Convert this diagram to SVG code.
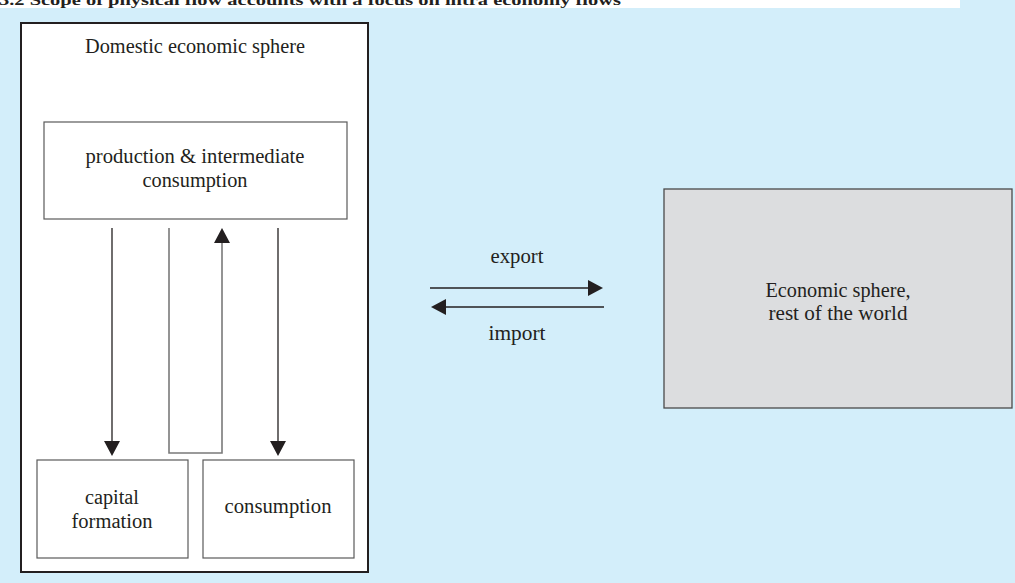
<svg xmlns="http://www.w3.org/2000/svg" width="1015" height="583" viewBox="0 0 1015 583">
  <style>
    .lbl { font-family: "Liberation Serif", "Times New Roman", serif; font-size: 20px; fill: #231F20; text-anchor: middle; }
    .title { font-family: "Liberation Serif", "Times New Roman", serif; font-size: 15px; font-weight: bold; fill: #231F20; }
    .box { fill: #FFFFFF; stroke: #5A5A5A; stroke-width: 1.2; }
    .flow { fill: none; stroke: #231F20; stroke-width: 1.3; }
    .loop { fill: none; stroke: #7A7A7A; stroke-width: 1.6; }
  </style>
  <defs>
    <marker id="head" markerUnits="userSpaceOnUse" markerWidth="16" markerHeight="16" refX="0" refY="8" orient="auto">
      <path d="M0,0 L15,8 L0,16 z" fill="#231F20"/>
    </marker>
  </defs>

  <!-- page background -->
  <rect x="0" y="0" width="1015" height="583" fill="#D3EEFA"/>
  <rect x="0" y="0" width="960" height="8" fill="#FFFFFF"/>
  <text class="title" x="-1" y="5" textLength="622" lengthAdjust="spacingAndGlyphs">3.2  Scope of physical flow accounts with a focus on intra economy flows</text>

  <!-- domestic economic sphere -->
  <g id="domestic">
    <rect x="21" y="23" width="347" height="549" fill="#FFFFFF" stroke="#231F20" stroke-width="2"/>
    <text class="lbl" x="195" y="53" textLength="220" lengthAdjust="spacingAndGlyphs">Domestic economic sphere</text>
  </g>

  <g id="production">
    <rect class="box" x="44" y="122" width="303" height="97"/>
    <text class="lbl" x="195" y="163" textLength="219" lengthAdjust="spacingAndGlyphs">production &amp; intermediate</text>
    <text class="lbl" x="195" y="187" textLength="105" lengthAdjust="spacingAndGlyphs">consumption</text>
  </g>

  <g id="capital-formation">
    <rect class="box" x="37" y="460" width="151" height="98"/>
    <text class="lbl" x="112" y="504" textLength="54" lengthAdjust="spacingAndGlyphs">capital</text>
    <text class="lbl" x="112" y="528" textLength="81" lengthAdjust="spacingAndGlyphs">formation</text>
  </g>

  <g id="consumption">
    <rect class="box" x="203" y="460" width="151" height="98"/>
    <text class="lbl" x="278" y="513" textLength="107" lengthAdjust="spacingAndGlyphs">consumption</text>
  </g>

  <!-- rest of the world -->
  <g id="rest-of-world">
    <rect x="664" y="189" width="348" height="219" fill="#DCDDDF" stroke="#4A4A4A" stroke-width="1.3"/>
    <text class="lbl" x="838" y="297" textLength="145" lengthAdjust="spacingAndGlyphs">Economic sphere,</text>
    <text class="lbl" x="838" y="320" textLength="139" lengthAdjust="spacingAndGlyphs">rest of the world</text>
  </g>

  <!-- flows -->
  <g id="connectors">
    <line class="flow" x1="112" y1="228" x2="112" y2="441" marker-end="url(#head)"/>
    <path class="loop" d="M169,228 V453 H222 V243" marker-end="url(#head)"/>
    <line class="flow" x1="278" y1="228" x2="278" y2="441" marker-end="url(#head)"/>
    <line class="flow" x1="430" y1="288" x2="588" y2="288" marker-end="url(#head)"/>
    <line class="flow" x1="604" y1="307" x2="446" y2="307" marker-end="url(#head)"/>
    <text class="lbl" x="517" y="263" textLength="53" lengthAdjust="spacingAndGlyphs">export</text>
    <text class="lbl" x="517" y="340" textLength="57" lengthAdjust="spacingAndGlyphs">import</text>
  </g>
</svg>
